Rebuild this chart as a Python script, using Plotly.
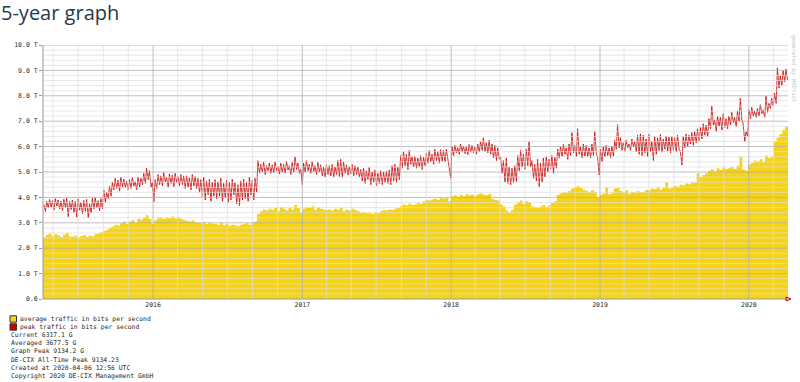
import plotly.graph_objects as go
import pandas as pd

# ---------------- data (values in Tbit/s, one entry per week) ----------------
start_date = "2015-04-06"
end_date = "2020-04-06"

avg_T = [
    2.42, 2.52, 2.58, 2.47, 2.55, 2.50, 2.44, 2.53, 2.60, 2.46,
    2.45, 2.50, 2.42, 2.48, 2.52, 2.44, 2.50, 2.47, 2.55, 2.58,
    2.62, 2.68, 2.72, 2.80, 2.85, 2.92, 2.88, 2.98, 3.05, 2.95,
    3.05, 3.10, 3.00, 3.15, 3.12, 3.20, 3.30, 3.15, 2.95, 3.10,
    3.18, 3.20, 3.15, 3.22, 3.18, 3.25, 3.17, 3.20, 3.15, 3.12,
    3.08, 3.05, 3.10, 3.02, 3.00, 2.98, 3.02, 2.95, 3.00, 2.96,
    2.95, 2.92, 2.98, 2.90, 2.95, 2.88, 2.92, 2.90, 2.86, 2.92,
    2.95, 2.98, 2.92, 3.00, 3.05, 3.35, 3.45, 3.52, 3.48, 3.55,
    3.50, 3.58, 3.45, 3.62, 3.55, 3.48, 3.60, 3.52, 3.70, 3.58,
    3.40, 3.55, 3.62, 3.58, 3.65, 3.50, 3.60, 3.55, 3.52, 3.50,
    3.52, 3.48, 3.55, 3.50, 3.58, 3.45, 3.52, 3.48, 3.55, 3.50,
    3.45, 3.40, 3.42, 3.38, 3.40, 3.35, 3.42, 3.38, 3.45, 3.50,
    3.48, 3.52, 3.50, 3.55, 3.58, 3.65, 3.72, 3.68, 3.75, 3.70,
    3.72, 3.78, 3.75, 3.85, 3.90, 3.88, 3.92, 3.95, 3.90, 3.98,
    3.95, 4.00, 3.85, 4.05, 4.08, 4.02, 4.10, 4.05, 4.12, 4.08,
    4.10, 4.05, 4.12, 4.15, 4.10, 4.08, 4.12, 3.95, 3.90, 3.88,
    3.72, 3.65, 3.48, 3.42, 3.50, 3.72, 3.80, 3.88, 3.75, 3.85,
    3.80, 3.65, 3.62, 3.58, 3.65, 3.70, 3.62, 3.68, 3.78, 3.85,
    4.10, 4.15, 4.20, 4.18, 4.25, 4.35, 4.40, 4.45, 4.38, 4.30,
    4.25, 4.20, 4.28, 4.22, 4.00, 4.10, 4.15, 4.40, 4.12, 4.18,
    4.35, 4.38, 4.25, 4.20, 4.28, 4.15, 4.22, 4.18, 4.25, 4.20,
    4.22, 4.30, 4.28, 4.35, 4.32, 4.40, 4.30, 4.38, 4.60, 4.35,
    4.40, 4.45, 4.42, 4.50, 4.48, 4.55, 4.52, 4.60, 4.58, 4.95,
    4.80, 4.88, 4.95, 5.05, 5.10, 5.02, 5.15, 5.08, 5.18, 5.12,
    5.15, 5.20, 5.12, 5.25, 5.60, 5.10, 5.05, 5.30, 5.35, 5.45,
    5.40, 5.50, 5.38, 5.65, 5.55, 5.60, 6.20, 6.35, 6.50, 6.65, 6.80,
]

peak_high_T = [
    3.72, 3.85, 3.92, 3.88, 3.95, 3.90, 3.86, 3.93, 3.97, 3.84,
    3.90, 3.85, 3.95, 3.80, 3.88, 3.92, 3.75, 3.96, 3.99, 3.87,
    3.95, 4.30, 4.20, 4.45, 4.60, 4.75, 4.68, 4.80, 4.72, 4.65,
    4.70, 4.78, 4.62, 4.80, 4.75, 4.95, 5.15, 5.05, 4.60, 4.70,
    4.90, 4.85, 4.98, 4.80, 4.92, 4.88, 4.95, 4.82, 4.90, 4.85,
    4.85, 4.78, 4.90, 4.82, 4.75, 4.70, 4.80, 4.65, 4.72, 4.60,
    4.70, 4.62, 4.75, 4.55, 4.68, 4.60, 4.72, 4.58, 4.50, 4.65,
    4.72, 4.60, 4.80, 4.68, 4.75, 5.45, 5.30, 5.40, 5.25, 5.35,
    5.28, 5.40, 5.22, 5.35, 5.30, 5.42, 5.25, 5.38, 5.60, 5.35,
    5.10, 5.35, 5.45, 5.30, 5.40, 5.25, 5.38, 5.28, 5.20, 5.30,
    5.25, 5.30, 5.20, 5.45, 5.50, 5.40, 5.28, 5.22, 5.30, 5.25,
    5.20, 5.10, 5.15, 5.05, 5.18, 5.00, 5.08, 4.95, 5.05, 5.00,
    5.02, 5.08, 5.25, 5.30, 5.20, 5.65, 5.80, 5.70, 5.85, 5.60,
    5.60, 5.55, 5.65, 5.58, 5.75, 5.85, 5.70, 5.90, 5.80, 5.88,
    5.85, 5.90, 5.30, 6.00, 6.05, 5.95, 6.10, 6.02, 5.98, 6.08,
    6.05, 6.00, 6.10, 6.20, 6.35, 6.15, 6.25, 6.10, 6.05, 5.95,
    5.60, 5.45, 5.55, 5.20, 5.15, 5.25, 5.65, 5.85, 5.70, 5.90,
    6.20, 5.45, 5.30, 5.50, 5.35, 5.55, 5.60, 5.50, 5.65, 5.58,
    5.90, 6.00, 6.08, 5.95, 6.10, 6.55, 6.05, 6.70, 6.00, 6.10,
    6.05, 5.95, 6.10, 6.60, 5.60, 5.90, 6.00, 6.05, 5.95, 6.02,
    6.25, 6.86, 6.35, 6.15, 6.25, 6.10, 6.30, 6.20, 6.45, 6.50,
    6.45, 6.30, 6.50, 6.20, 6.40, 6.35, 6.48, 6.30, 6.42, 6.38,
    6.40, 6.35, 6.45, 5.80, 6.40, 6.50, 6.45, 6.55, 6.60, 6.70,
    6.75, 6.90, 6.85, 7.10, 7.60, 7.05, 7.20, 7.15, 7.30, 7.10,
    7.20, 7.35, 7.15, 7.40, 7.90, 6.90, 6.60, 7.45, 7.55, 7.40,
    7.50, 7.65, 7.45, 8.00, 7.70, 7.90, 8.10, 9.10, 8.80, 9.00, 9.05,
]

peak_low_T = [
    3.45, 3.58, 3.62, 3.50, 3.66, 3.55, 3.48, 3.60, 3.24, 3.52,
    3.40, 3.22, 3.50, 3.35, 3.45, 3.20, 3.38, 3.55, 3.60, 3.48,
    3.55, 3.80, 3.95, 4.05, 4.30, 4.35, 4.25, 4.40, 4.38, 4.30,
    4.35, 4.45, 4.30, 4.40, 4.50, 4.55, 4.70, 4.40, 3.83, 4.35,
    4.50, 4.45, 4.60, 4.40, 4.55, 4.42, 4.58, 4.45, 4.50, 4.35,
    4.40, 4.30, 4.45, 4.35, 4.20, 4.00, 3.90, 4.10, 3.85, 4.05,
    3.95, 4.05, 3.85, 4.00, 3.80, 3.90, 4.10, 3.75, 3.68, 3.90,
    3.95, 3.85, 4.10, 3.90, 4.20, 4.95, 5.00, 4.90, 5.05, 4.95,
    4.98, 5.05, 4.92, 5.00, 4.95, 5.08, 4.90, 5.00, 5.10, 4.95,
    4.50, 5.00, 5.05, 4.95, 5.02, 4.90, 5.00, 4.85, 4.80, 4.90,
    4.85, 4.80, 4.90, 4.82, 4.78, 4.95, 4.88, 4.92, 4.85, 4.90,
    4.80, 4.65, 4.55, 4.70, 4.50, 4.60, 4.45, 4.55, 4.50, 4.58,
    4.55, 4.50, 4.65, 4.60, 4.70, 5.15, 5.25, 5.10, 5.30, 5.20,
    5.15, 5.20, 5.10, 5.25, 5.35, 5.40, 5.30, 5.45, 5.35, 5.42,
    5.40, 5.45, 4.76, 5.65, 5.75, 5.70, 5.80, 5.72, 5.68, 5.78,
    5.75, 5.70, 5.80, 5.85, 5.80, 5.75, 5.70, 5.55, 5.45, 5.50,
    4.95, 4.60, 4.55, 4.50, 4.58, 4.62, 5.05, 5.20, 5.10, 5.25,
    5.20, 4.75, 4.65, 4.42, 4.60, 4.80, 5.00, 5.10, 4.95, 5.15,
    5.55, 5.60, 5.70, 5.50, 5.65, 5.75, 5.60, 5.70, 5.55, 5.62,
    5.60, 5.55, 5.65, 5.70, 4.88, 5.40, 5.60, 5.65, 5.55, 5.62,
    5.90, 5.95, 5.85, 5.80, 5.95, 5.85, 6.00, 5.80, 5.70, 5.65,
    5.75, 5.60, 5.80, 5.45, 5.70, 5.85, 5.78, 5.90, 5.82, 5.75,
    5.85, 5.80, 5.90, 5.27, 5.95, 6.00, 6.10, 6.05, 6.15, 6.20,
    6.30, 6.45, 6.40, 6.70, 6.85, 6.60, 6.80, 6.65, 6.75, 6.70,
    6.85, 6.95, 6.80, 7.00, 7.05, 6.20, 6.40, 7.10, 7.20, 7.15,
    7.20, 7.30, 7.15, 7.35, 7.50, 7.60, 7.70, 8.30, 8.40, 8.55, 8.60,
]

y_tick_vals = [0, 1, 2, 3, 4, 5, 6, 7, 8, 9, 10]
y_tick_text = ["0.0", "1.0 T", "2.0 T", "3.0 T", "4.0 T", "5.0 T",
               "6.0 T", "7.0 T", "8.0 T", "9.0 T", "10.0 T"]
year_tick_vals = ["2016-01-01", "2017-01-01", "2018-01-01", "2019-01-01", "2020-01-01"]
year_tick_text = ["2016", "2017", "2018", "2019", "2020"]

legend_labels = ["average traffic in bits per second", "peak traffic in bits per second"]
info_lines = [
    "Current 6317.1 G",
    "Averaged 3677.5 G",
    "Graph Peak 9134.2 G",
    "DE-CIX All-Time Peak 9134.23",
    "Created at 2020-04-06 12:56 UTC",
    "Copyright 2020 DE-CIX Management GmbH",
]

# ---------------- styling ----------------
YELLOW = "#F5D318"
RED = "#CC0000"
MONO = "DejaVu Sans Mono"
TXT = "#2a2a2a"

W, H = 800, 382
L, R, T, B = 43, 788, 45, 299  # plot area in pixels


def px(x):
    return (x - L) / (R - L)


def py(y):
    return (B - y) / (B - T)


weeks = pd.date_range(start_date, periods=len(avg_T), freq="7D")

# average: weekly steps, extended to the end of the window
avg_x = list(weeks) + [pd.Timestamp(end_date)]
avg_y = list(avg_T) + [avg_T[-1]]

# peak: weekday high, weekend low for each week
peak_x, peak_y = [], []
for w, hi, lo in zip(weeks, peak_high_T, peak_low_T):
    peak_x += [w + pd.Timedelta(days=2), w + pd.Timedelta(days=6)]
    peak_y += [hi, lo]

fig = go.Figure()
fig.add_trace(go.Scatter(
    x=avg_x, y=avg_y, mode="lines", line=dict(width=0, shape="hv", color=YELLOW),
    fill="tozeroy", fillcolor=YELLOW, showlegend=False, hoverinfo="skip"))
fig.add_trace(go.Scatter(
    x=peak_x, y=peak_y, mode="lines", line=dict(width=0.8, color=RED),
    showlegend=False, hoverinfo="skip"))

shapes = []
MINOR = "rgba(222,222,222,0.7)"
MAJOR = "rgba(175,175,175,0.8)"
# horizontal grid
for k in range(1, 50):
    v = k * 0.2
    if k % 5 == 0:
        continue
    shapes.append(dict(type="line", xref="paper", yref="y", x0=0, x1=1, y0=v, y1=v,
                       line=dict(color=MINOR, width=1), layer="above"))
for v in y_tick_vals[1:]:
    shapes.append(dict(type="line", xref="paper", yref="y", x0=0, x1=1, y0=v, y1=v,
                       line=dict(color=MAJOR, width=1), layer="above"))
# vertical grid: every two months, darker at the year boundary
s, e = pd.Timestamp(start_date), pd.Timestamp(end_date)
for yr in range(2015, 2021):
    for m in (1, 3, 5, 7, 9, 11):
        d = pd.Timestamp(year=yr, month=m, day=1)
        if s < d < e:
            shapes.append(dict(type="line", xref="x", yref="paper", x0=d, x1=d, y0=0, y1=1,
                               line=dict(color=MAJOR if m == 1 else MINOR, width=1),
                               layer="above"))
# axes lines
shapes.append(dict(type="line", xref="paper", yref="paper", x0=0, x1=1, y0=0, y1=0,
                   line=dict(color="#9a9a9a", width=1), layer="above"))
shapes.append(dict(type="line", xref="paper", yref="paper", x0=0, x1=0, y0=0, y1=1,
                   line=dict(color="#9a9a9a", width=1), layer="above"))
# small arrow at the end of the x axis
shapes.append(dict(type="path", xref="paper", yref="paper",
                   path=f"M {px(786)} {py(297)} L {px(791)} {py(299)} L {px(786)} {py(301)} Z",
                   line=dict(color=RED, width=1), fillcolor="rgba(0,0,0,0)", layer="above"))
# legend squares
for col, yc in ((YELLOW, 319), (RED, 327)):
    shapes.append(dict(type="rect", xref="paper", yref="paper",
                       x0=px(10), x1=px(16.5), y0=py(yc + 3.2), y1=py(yc - 3.2),
                       fillcolor=col, line=dict(color="#333", width=1)))

annotations = []
annotations.append(dict(text="5-year graph", xref="paper", yref="paper", x=px(-1), y=py(12),
                        xanchor="left", yanchor="middle", showarrow=False,
                        font=dict(family="Open Sans", size=20, color="#25394d")))
for lab, yc in zip(legend_labels, (319, 327)):
    annotations.append(dict(text=lab, xref="paper", yref="paper", x=px(18), y=py(yc),
                            xanchor="left", yanchor="middle", showarrow=False,
                            font=dict(family=MONO, size=6.4, color=TXT)))
for i, lab in enumerate(info_lines):
    annotations.append(dict(text=lab, xref="paper", yref="paper", x=px(9), y=py(335 + 8.2 * i),
                            xanchor="left", yanchor="middle", showarrow=False,
                            font=dict(family=MONO, size=6.4, color=TXT)))
annotations.append(dict(text="generated by RRDtool", xref="paper", yref="paper",
                        x=px(793), y=py(68), xanchor="center", yanchor="middle",
                        textangle=90, showarrow=False,
                        font=dict(family=MONO, size=5.6, color="#c4c4c4")))

fig.update_layout(
    width=W, height=H,
    margin=dict(l=L, r=W - R, t=T, b=H - B, pad=0),
    paper_bgcolor="white", plot_bgcolor="white",
    showlegend=False,
    shapes=shapes, annotations=annotations,
    xaxis=dict(type="date", range=[start_date, end_date], showgrid=False, zeroline=False,
               tickvals=year_tick_vals, ticktext=year_tick_text, ticks="",
               tickfont=dict(family=MONO, size=6.5, color=TXT), showline=False,
               automargin=False),
    yaxis=dict(range=[0, 10], showgrid=False, zeroline=False,
               tickvals=y_tick_vals, ticktext=y_tick_text, ticks="outside", ticklen=3,
               tickcolor="#9a9a9a", tickfont=dict(family=MONO, size=6.5, color=TXT),
               showline=False, automargin=False),
)

fig.write_html("out.html", config={"displayModeBar": False},
               post_script="document.body.style.margin='0px';")
